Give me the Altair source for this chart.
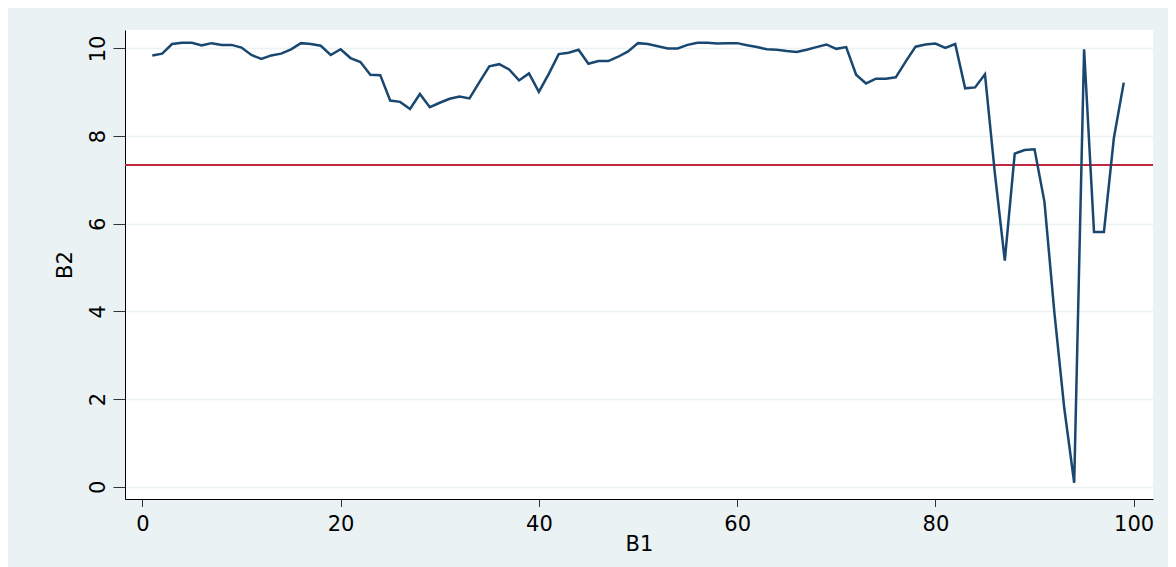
import altair as alt
import pandas as pd

B1 = [1, 2, 3, 4, 5, 6, 7, 8, 9, 10, 11, 12, 13, 14, 15, 16, 17, 18, 19, 20,
      21, 22, 23, 24, 25, 26, 27, 28, 29, 30, 31, 32, 33, 34, 35, 36, 37, 38, 39, 40,
      41, 42, 43, 44, 45, 46, 47, 48, 49, 50, 51, 52, 53, 54, 55, 56, 57, 58, 59, 60,
      61, 62, 63, 64, 65, 66, 67, 68, 69, 70, 71, 72, 73, 74, 75, 76, 77, 78, 79, 80,
      81, 82, 83, 84, 85, 86, 87, 88, 89, 90, 91, 92, 93, 94, 95, 96, 97, 98, 99]

B2 = [9.84, 9.88, 10.10, 10.13, 10.13, 10.07, 10.12, 10.08, 10.08, 10.02,
      9.85, 9.76, 9.84, 9.88, 9.98, 10.12, 10.10, 10.06, 9.85, 9.98,
      9.78, 9.69, 9.40, 9.39, 8.81, 8.78, 8.62, 8.96, 8.66, 8.76,
      8.85, 8.90, 8.86, 9.23, 9.59, 9.64, 9.52, 9.27, 9.43, 9.01,
      9.42, 9.87, 9.90, 9.97, 9.65, 9.71, 9.71, 9.81, 9.93, 10.12,
      10.10, 10.05, 10.00, 10.00, 10.08, 10.13, 10.13, 10.11, 10.12, 10.12,
      10.07, 10.03, 9.98, 9.97, 9.94, 9.92, 9.97, 10.03, 10.09, 9.99,
      10.03, 9.40, 9.20, 9.31, 9.31, 9.34, 9.70, 10.04, 10.09, 10.11,
      10.01, 10.10, 9.09, 9.11, 9.41, 7.15, 5.16, 7.60, 7.68, 7.70,
      6.50, 3.98, 1.79, 0.09, 9.98, 5.81, 5.81, 7.95, 9.22]

REF_LINE = [7.34]
X_TICKS = [0, 20, 40, 60, 80, 100]
Y_TICKS = [0, 2, 4, 6, 8, 10]

df = pd.DataFrame({"B1": B1, "B2": B2})
ref = pd.DataFrame({"v": REF_LINE})

FONT = "DejaVu Sans"
BG = "#EAF2F3"

x_scale = alt.Scale(domain=[-1.75, 101.95], nice=False, zero=False)
y_scale = alt.Scale(domain=[-0.28, 10.42], nice=False, zero=False)

x_axis = alt.Axis(values=X_TICKS, title="B1", grid=False, tickSize=7.5,
                  tickColor="#333333", domainColor="#000000", domainWidth=1,
                  labelFont=FONT, labelFontSize=21, labelColor="#000000",
                  labelPadding=7, labelAngle=0, titleFont=FONT, titleFontSize=21,
                  titleFontWeight="normal", titleColor="#000000",
                  titleBaseline="top", titleY=34.5)

y_axis = alt.Axis(values=Y_TICKS, title="B2", grid=True, gridColor=BG, gridWidth=1.5,
                  tickSize=12, tickColor="#333333", domainColor="#000000", domainWidth=1,
                  labelFont=FONT, labelFontSize=21, labelColor="#000000",
                  labelAngle=270, labelAlign="center", labelBaseline="bottom",
                  labelPadding=5, titleFont=FONT, titleFontSize=21,
                  titleFontWeight="normal", titleColor="#000000", titleAngle=270,
                  titleBaseline="bottom", titleX=-50)

base_line = alt.Chart(df).mark_line(color="#1a476f", strokeWidth=2.5).encode(
    x=alt.X("B1:Q", scale=x_scale, axis=x_axis),
    y=alt.Y("B2:Q", scale=y_scale, axis=y_axis),
)

rule = alt.Chart(ref).mark_rule(color="#c1273d", strokeWidth=2).encode(
    y=alt.Y("v:Q", scale=y_scale, axis=y_axis)
)

chart = alt.layer(rule, base_line).properties(
    width=1028,
    height=469,
    background=BG,
    padding={"left": 117, "top": 22, "right": 15, "bottom": 68},
    autosize=alt.AutoSizeParams(type="none"),
).configure_view(fill="white", strokeWidth=0)

chart.save("out.html", embed_options={"renderer": "svg", "actions": False})
